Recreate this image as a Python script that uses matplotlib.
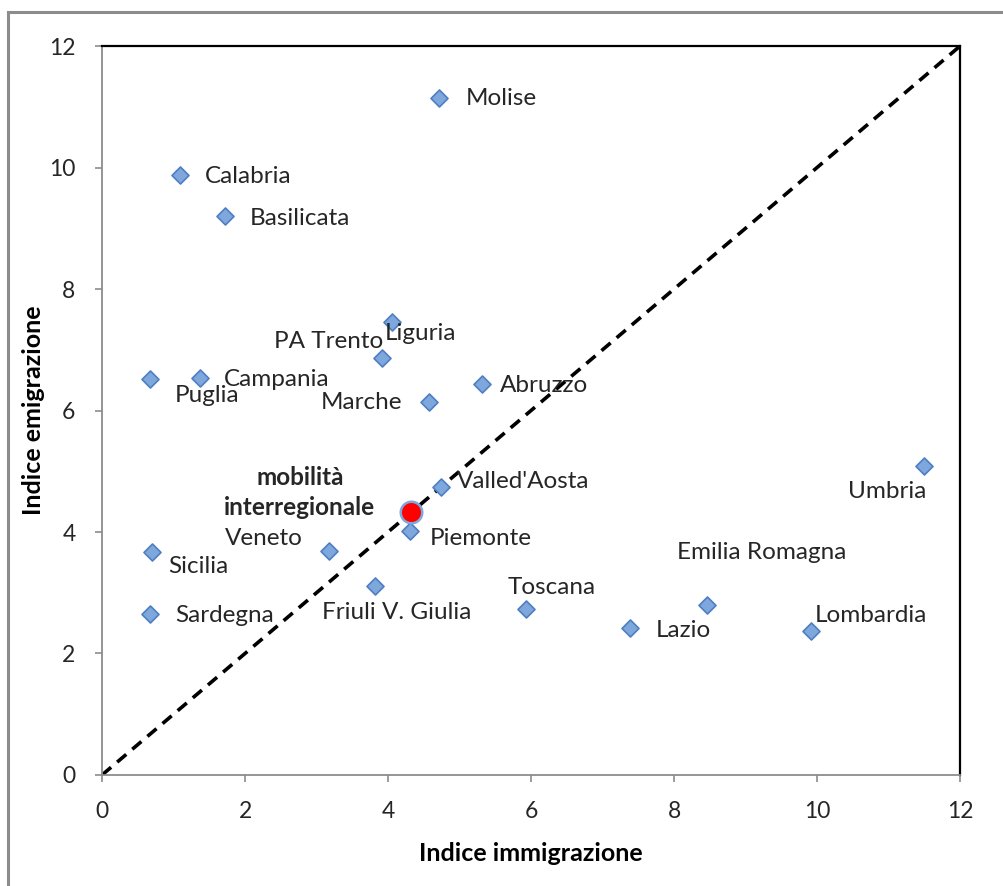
import matplotlib.pyplot as plt
from matplotlib.patches import Rectangle

plt.rcParams['font.family'] = ['Lato', 'DejaVu Sans']

# regions: immigration index (x), emigration index (y)
regions = ['Molise', 'Calabria', 'Basilicata', 'Liguria', 'PA Trento', 'Puglia',
           'Campania', 'Abruzzo', 'Marche', 'Umbria', "Valled'Aosta", 'Piemonte',
           'Veneto', 'Sicilia', 'Friuli V. Giulia', 'Toscana', 'Emilia Romagna',
           'Lazio', 'Lombardia', 'Sardegna']
immig = [4.71, 1.09, 1.72, 4.06, 3.92, 0.67, 1.37, 5.31, 4.57, 11.50, 4.74, 4.31,
         3.17, 0.70, 3.82, 5.93, 8.46, 7.38, 9.92, 0.67]
emig = [11.14, 9.88, 9.20, 7.46, 6.86, 6.52, 6.54, 6.44, 6.14, 5.09, 4.74, 4.02,
        3.69, 3.67, 3.11, 2.73, 2.80, 2.42, 2.37, 2.65]

mean_label = 'mobilità\ninterregionale'
mean_x = 4.32
mean_y = 4.33

# label placement (pixel offsets, horizontal alignment)
label_pos = {
    'Molise': (27, 0, 'left'),
    'Calabria': (25, -2, 'left'),
    'Basilicata': (25, -2, 'left'),
    'Liguria': (-8, -12, 'left'),
    'PA Trento': (1, 17, 'right'),
    'Puglia': (25, -17, 'left'),
    'Campania': (24, -2, 'left'),
    'Abruzzo': (18, -2, 'left'),
    'Marche': (-27, 0, 'right'),
    'Umbria': (2, -26, 'right'),
    "Valled'Aosta": (16, 6, 'left'),
    'Piemonte': (20, -8, 'left'),
    'Veneto': (-26, 12, 'right'),
    'Sicilia': (16, -14, 'left'),
    'Friuli V. Giulia': (22, -26, 'center'),
    'Toscana': (26, 22, 'center'),
    'Emilia Romagna': (55, 52, 'center'),
    'Lazio': (26, -3, 'left'),
    'Lombardia': (3, 16, 'left'),
    'Sardegna': (25, -1, 'left'),
}

fig = plt.figure(figsize=(10.04, 8.86), dpi=100)
fig.patches.append(Rectangle((0.008, -0.05), 1.1, 1.0365, transform=fig.transFigure,
                             fill=False, edgecolor='#8c8c8c', linewidth=2.2))
ax = fig.add_axes([0.1016, 0.1253, 0.8546, 0.8227])

ax.plot([0, 12], [0, 12], color='black', linestyle=(0, (3.3, 2.2)), linewidth=2.6, zorder=2)
ax.scatter(immig, emig, marker='D', s=75, color='#7ea7dd', edgecolors='#4f7fc0',
           linewidths=1.2, zorder=3)
ax.scatter([mean_x], [mean_y], marker='o', s=240, color='#ff0000', edgecolors='#7ea7dd',
           linewidths=1.8, zorder=4)

for name, x, y in zip(regions, immig, emig):
    dx, dy, ha = label_pos[name]
    ax.annotate(name, (x, y), xytext=(dx * 0.72, dy * 0.72), textcoords='offset points',
                ha=ha, va='center', fontsize=17.5, color='#262626')
ax.annotate(mean_label, (mean_x, mean_y), xytext=(-80, 14), textcoords='offset points',
            ha='center', va='center', fontsize=17.5, fontweight='bold', linespacing=1.4,
            color='#262626')

ax.set_xlim(0, 12)
ax.set_ylim(0, 12)
ax.set_xticks(range(0, 13, 2))
ax.set_yticks(range(0, 13, 2))
ax.tick_params(direction='out', length=5, width=1.2, color='#8c8c8c', labelsize=16.5,
               labelcolor='#262626')
ax.tick_params(axis='x', pad=14)
ax.tick_params(axis='y', pad=14)
for side in ['left', 'bottom']:
    ax.spines[side].set_color('#8c8c8c')
    ax.spines[side].set_linewidth(1.3)
for side in ['top', 'right']:
    ax.spines[side].set_color('black')
    ax.spines[side].set_linewidth(1.6)

ax.set_xlabel('Indice immigrazione', fontsize=18, fontweight='bold', labelpad=14)
ax.set_ylabel('Indice emigrazione', fontsize=18, fontweight='bold', labelpad=3)

fig.savefig('out.png', dpi=100)
